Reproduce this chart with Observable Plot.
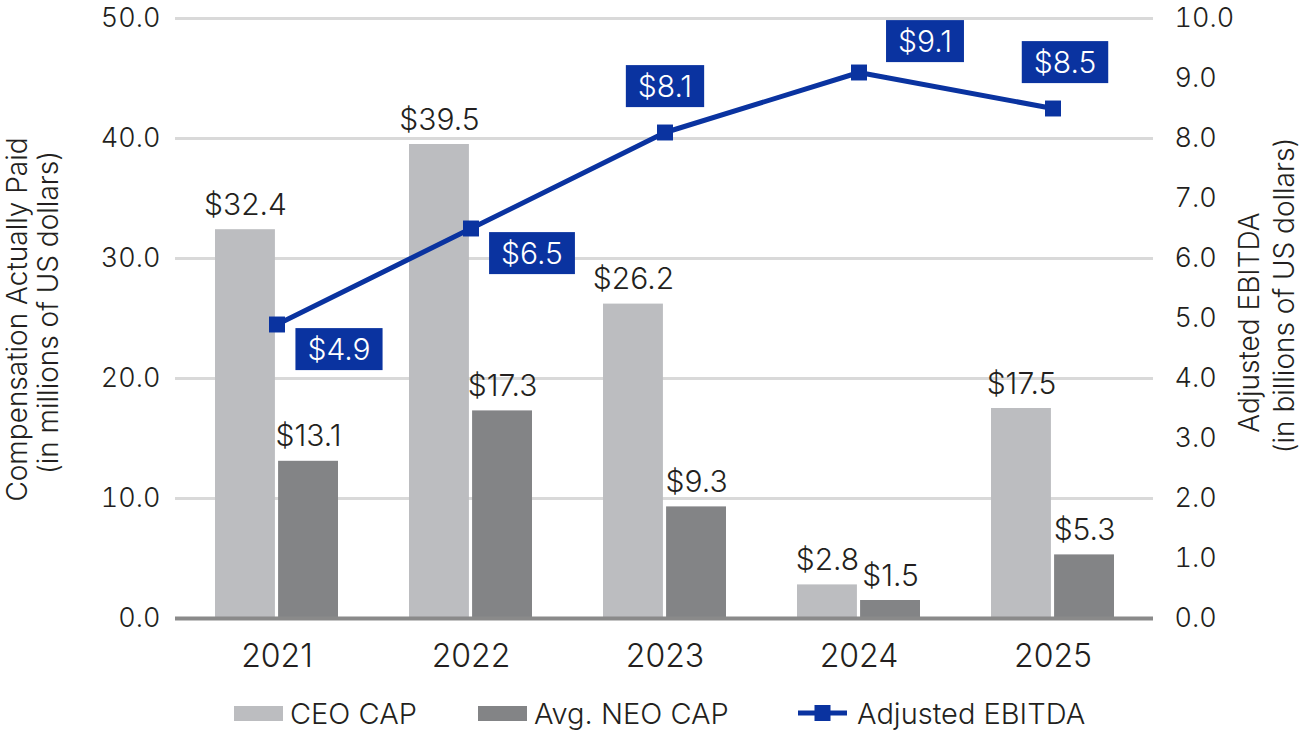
<!DOCTYPE html>
<html><head><meta charset="utf-8">
<script src="https://cdn.jsdelivr.net/npm/d3@7"></script>
<script src="https://cdn.jsdelivr.net/npm/@observablehq/plot@0.6"></script>
<style>
body{margin:0;background:#fff;font-family:Inter, "Liberation Sans", sans-serif;font-weight:300;color:#231f20}
#legend{position:relative;width:1305px;height:54px;font-size:29px}
.item{position:absolute;top:13px;height:40px;display:flex;align-items:center;white-space:nowrap}
.sw{width:49px;height:15px;margin-right:7px}
svg text{font-weight:300}
</style></head><body>
<div id="chart"></div>
<div id="legend"></div>
<script>
// ---- data ----
const years = ["2021", "2022", "2023", "2024", "2025"];
const ceoCap = [32.4, 39.5, 26.2, 2.8, 17.5];
const neoCap = [13.1, 17.3, 9.3, 1.5, 5.3];
const ebitda = [4.9, 6.5, 8.1, 9.1, 8.5];
const leftTicks = [0, 10, 20, 30, 40, 50];
const rightTicks = [0, 1, 2, 3, 4, 5, 6, 7, 8, 9, 10];
const seriesNames = ["CEO CAP", "Avg. NEO CAP", "Adjusted EBITDA"];
const leftTitle = ["Compensation Actually Paid", "(in millions of US dollars)"];
const rightTitle = ["Adjusted EBITDA", "(in billions of US dollars)"];

// ---- styling / layout config ----
const W = 1305, H = 680;
const mL = 175, mR = 152, mT = 18, mB = 62;
const padInner = 0.366, padOuter = 0.2;
const ratio = 5; // right axis (billions) -> left axis units
const colors = {ceo: "#bcbdc0", neo: "#838486", line: "#0a33a0", grid: "#d9d9d9", base: "#8a8a8a", text: "#231f20"};
// EBITDA label box offsets (px) relative to each point
const labelOffsets = [[62, 26], [61, 26], [0, -45], [66, -30], [12, -45]];

const bw = d3.scaleBand().domain(years).range([mL, W - mR]).paddingInner(padInner).paddingOuter(padOuter).bandwidth();
const half = bw / 2 + 1.5;

const ceoData = years.map((y, i) => ({year: y, value: ceoCap[i]}));
const neoData = years.map((y, i) => ({year: y, value: neoCap[i]}));
const ebData = years.map((y, i) => ({year: y, value: ebitda[i]}));
const fmt = v => "$" + v.toFixed(1);

const plot = Plot.plot({
  width: W, height: H,
  marginLeft: mL, marginRight: mR, marginTop: mT, marginBottom: mB,
  style: {fontFamily: "Inter, 'Liberation Sans', sans-serif", fontSize: "27px", color: colors.text, background: "#fff"},
  x: {type: "band", domain: years, paddingInner: padInner, paddingOuter: padOuter, align: 0.5},
  y: {domain: [0, 50]},
  marks: [
    Plot.ruleY(leftTicks.filter(d => d > 0), {stroke: colors.grid, strokeWidth: 3}),
    Plot.barY(ceoData, {x: "year", y: "value", fill: colors.ceo, insetRight: half}),
    Plot.barY(neoData, {x: "year", y: "value", fill: colors.neo, insetLeft: half}),
    Plot.ruleY([0], {stroke: colors.base, strokeWidth: 4}),
    Plot.text(ceoData, {x: "year", y: "value", text: d => fmt(d.value), dx: -(bw / 4 + 0.75), dy: -15, lineAnchor: "bottom", fontSize: 30, fill: colors.text}),
    Plot.text(neoData, {x: "year", y: "value", text: d => fmt(d.value), dx: (bw / 4 + 0.75), dy: -15, lineAnchor: "bottom", fontSize: 30, fill: colors.text}),
    Plot.line(ebData, {x: "year", y: d => d.value * ratio, stroke: colors.line, strokeWidth: 5}),
    Plot.dot(ebData, {x: "year", y: d => d.value * ratio, symbol: "square", r: 9, fill: colors.line, stroke: "none"}),
    ...ebData.map((d, i) => Plot.text([d], {x: "year", y: e => e.value * ratio, text: e => fmt(e.value), dx: labelOffsets[i][0], dy: labelOffsets[i][1], fontSize: 30, fill: "white"})),
    Plot.axisY({ticks: leftTicks, tickFormat: d => d.toFixed(1), tickSize: 0, tickPadding: 15, label: null, anchor: "left"}),
    Plot.axisY({ticks: rightTicks.map(t => t * ratio), tickFormat: d => (d / ratio).toFixed(1), tickSize: 0, tickPadding: 21, label: null, anchor: "right"}),
    Plot.axisX({tickSize: 0, tickPadding: 26, fontSize: 32, label: null}),
    Plot.text([leftTitle[0]], {frameAnchor: "left", textAnchor: "middle", dx: -157, dy: 1, rotate: -90, fontSize: 28, fill: colors.text}),
    Plot.text([leftTitle[1]], {frameAnchor: "left", textAnchor: "middle", dx: -126, dy: -6, rotate: -90, fontSize: 28, fill: colors.text}),
    Plot.text([rightTitle[0]], {frameAnchor: "right", textAnchor: "middle", dx: 97, dy: 4, rotate: -90, fontSize: 28, fill: colors.text}),
    Plot.text([rightTitle[1]], {frameAnchor: "right", textAnchor: "middle", dx: 132, dy: -23, rotate: -90, fontSize: 28, fill: colors.text})
  ]
});
document.getElementById("chart").append(plot);

// blue boxes behind the EBITDA labels
d3.select(plot).selectAll("g[aria-label='text']").each(function () {
  if ((this.getAttribute("fill") || "").toLowerCase() !== "white") return;
  const g = this;
  d3.select(g).selectAll("text").each(function () {
    const b = this.getBBox();
    const r = document.createElementNS("http://www.w3.org/2000/svg", "rect");
    r.setAttribute("x", b.x - 12);
    r.setAttribute("y", b.y - 3);
    r.setAttribute("width", b.width + 24);
    r.setAttribute("height", b.height + 6);
    r.setAttribute("fill", colors.line);
    const t = this.getAttribute("transform");
    if (t) r.setAttribute("transform", t);
    g.insertBefore(r, this);
  });
});

// legend
const legend = document.getElementById("legend");
const lx = [234, 478, 798];
seriesNames.forEach((name, i) => {
  const it = document.createElement("div");
  it.className = "item";
  it.style.left = lx[i] + "px";
  let sw;
  if (i < 2) {
    sw = `<div class="sw" style="background:${i === 0 ? colors.ceo : colors.neo}"></div>`;
  } else {
    sw = `<svg width="49" height="18" style="margin-right:10px"><line x1="0" x2="49" y1="9" y2="9" stroke="${colors.line}" stroke-width="5"/><rect x="16.5" y="1" width="16" height="16" fill="${colors.line}"/></svg>`;
  }
  it.innerHTML = sw + `<span>${name}</span>`;
  legend.append(it);
});
</script>
</body></html>
